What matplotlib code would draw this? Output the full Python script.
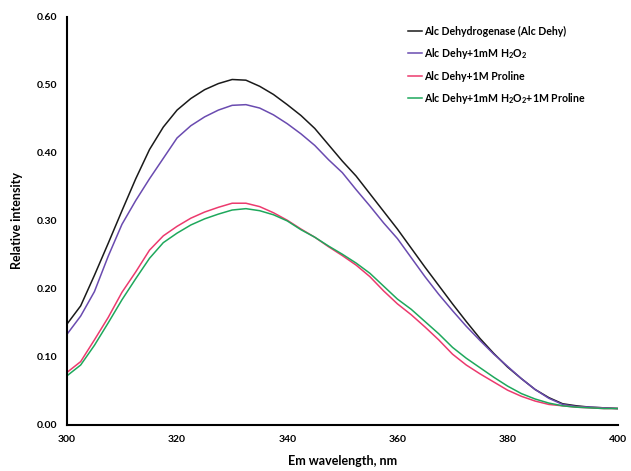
import matplotlib
matplotlib.use("Agg")
import matplotlib.pyplot as plt

plt.rcParams["font.family"] = ["Lato", "DejaVu Sans"]
plt.rcParams["font.weight"] = "bold"
plt.rcParams["mathtext.fontset"] = "custom"
plt.rcParams["mathtext.rm"] = "Lato:bold"
plt.rcParams["mathtext.bf"] = "Lato:bold"

# wavelength grid (nm)
wavelength = [300, 302.5, 305, 307.5, 310, 312.5, 315, 317.5, 320, 322.5,
              325, 327.5, 330, 332.5, 335, 337.5, 340, 342.5, 345, 347.5,
              350, 352.5, 355, 357.5, 360, 362.5, 365, 367.5, 370, 372.5,
              375, 377.5, 380, 382.5, 385, 387.5, 390, 392.5, 395, 397.5, 400]

alc_dehy = [0.148, 0.175, 0.220, 0.267, 0.315, 0.362, 0.405, 0.438, 0.463, 0.480,
            0.493, 0.502, 0.508, 0.507, 0.498, 0.486, 0.471, 0.455, 0.436, 0.412,
            0.388, 0.366, 0.340, 0.314, 0.288, 0.260, 0.232, 0.205, 0.178, 0.152,
            0.127, 0.105, 0.085, 0.068, 0.052, 0.040, 0.031, 0.028, 0.026, 0.025, 0.024]

alc_h2o2 = [0.133, 0.160, 0.196, 0.248, 0.295, 0.330, 0.362, 0.392, 0.422, 0.440,
            0.453, 0.463, 0.470, 0.471, 0.466, 0.456, 0.443, 0.428, 0.411, 0.390,
            0.371, 0.346, 0.322, 0.297, 0.274, 0.246, 0.218, 0.192, 0.168, 0.145,
            0.124, 0.104, 0.086, 0.068, 0.052, 0.039, 0.030, 0.027, 0.026, 0.025, 0.024]

alc_proline = [0.077, 0.093, 0.125, 0.158, 0.195, 0.225, 0.257, 0.278, 0.292, 0.304,
               0.313, 0.320, 0.326, 0.326, 0.321, 0.312, 0.301, 0.288, 0.276, 0.262,
               0.249, 0.235, 0.218, 0.197, 0.178, 0.162, 0.144, 0.125, 0.104, 0.088,
               0.075, 0.063, 0.051, 0.042, 0.035, 0.030, 0.028, 0.026, 0.025, 0.024, 0.024]

alc_h2o2_proline = [0.072, 0.088, 0.117, 0.150, 0.184, 0.215, 0.245, 0.268, 0.282, 0.294,
                    0.303, 0.310, 0.316, 0.318, 0.315, 0.309, 0.300, 0.287, 0.276, 0.263,
                    0.251, 0.238, 0.223, 0.204, 0.185, 0.170, 0.152, 0.134, 0.114, 0.098,
                    0.084, 0.070, 0.057, 0.046, 0.038, 0.032, 0.028, 0.026, 0.025, 0.024, 0.024]

labels = ["Alc Dehydrogenase (Alc Dehy)",
          r"Alc Dehy+1mM H$_\mathbf{2}$O$_\mathbf{2}$",
          "Alc Dehy+1M Proline",
          r"Alc Dehy+1mM H$_\mathbf{2}$O$_\mathbf{2}$+1M Proline"]
colors = ["#1a1a1a", "#6a4bb0", "#ec3a6e", "#1ea85c"]

fig = plt.figure(figsize=(6.31, 4.71), dpi=100)
ax = fig.add_axes([0.106, 0.098, 0.873, 0.866])

for series, label, color in zip([alc_dehy, alc_h2o2, alc_proline, alc_h2o2_proline],
                                labels, colors):
    ax.plot(wavelength, series, color=color, linewidth=1.1, label=label)

ax.set_xlim(300, 400)
ax.set_ylim(0, 0.6)
ax.set_xticks([300, 320, 340, 360, 380, 400])
ax.set_yticks([0, 0.1, 0.2, 0.3, 0.4, 0.5, 0.6])
ax.set_yticklabels([f"{v:.2f}" for v in ax.get_yticks()])
ax.tick_params(length=0, labelsize=7.5, pad=7)
for lbl in ax.get_xticklabels() + ax.get_yticklabels():
    lbl.set_fontweight("bold")

for side in ["top", "right"]:
    ax.spines[side].set_visible(False)
for side in ["left", "bottom"]:
    ax.spines[side].set_linewidth(1.5)
    ax.spines[side].set_color("black")

ax.set_xlabel("Em wavelength, nm", fontsize=9, fontweight="bold", labelpad=8)
ax.set_ylabel("Relative intensity", fontsize=9, fontweight="bold", labelpad=10)

fig.legend(loc="upper left", bbox_to_anchor=(0.632, 0.966), frameon=False,
           handlelength=1.3, handletextpad=0.2, labelspacing=0.9,
           prop={"weight": "bold", "size": 7.6})

fig.savefig("out.png", dpi=100)
